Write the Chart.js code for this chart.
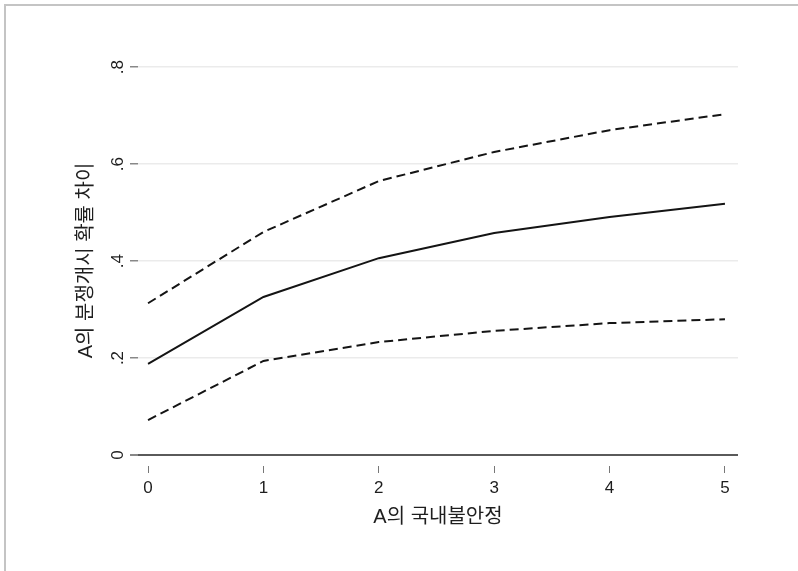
<!DOCTYPE html>
<html>
<head>
<meta charset="utf-8">
<script src="https://cdn.jsdelivr.net/npm/chart.js@4"></script>
<style>
  html, body { margin: 0; padding: 0; background: #fff; }
  #wrap { position: relative; width: 798px; height: 571px; overflow: hidden; }
  #frame { position: absolute; left: 4px; top: 4px; right: -4px; bottom: -4px;
           border-top: 2px solid #c4c4c4; border-left: 2px solid #c4c4c4; pointer-events: none; }
  canvas { position: absolute; left: 0; top: 0; }
</style>
</head>
<body>
<div id="wrap">
  <canvas id="chart" width="798" height="571"></canvas>
  <div id="frame"></div>
</div>
<script>
// values
const xValues = [0, 1, 2, 3, 4, 5];
const estimate = [0.188, 0.326, 0.406, 0.458, 0.491, 0.518];
const upperCI  = [0.313, 0.460, 0.565, 0.625, 0.670, 0.703];
const lowerCI  = [0.072, 0.194, 0.233, 0.256, 0.272, 0.280];

const xTicks = [0, 1, 2, 3, 4, 5];
const yTicks = [0, 0.2, 0.4, 0.6, 0.8];
const yTickLabels = ['0', '.2', '.4', '.6', '.8'];

const xTitle = 'A의 국내불안정';
const yTitle = 'A의 분쟁개시 확률 차이';

const FONT = "'Liberation Sans', Arial, 'Noto Sans CJK KR', sans-serif";
Chart.defaults.font.family = FONT;
Chart.defaults.color = '#1e1e1e';

const pts = arr => xValues.map((x, i) => ({ x, y: arr[i] }));

// y tick labels are rotated in the original (Stata style), so draw them here
const yLabels = {
  id: 'yLabels',
  afterDraw(chart) {
    const { ctx, scales: { y } } = chart;
    ctx.save();
    ctx.font = '17px ' + FONT;
    ctx.fillStyle = '#1e1e1e';
    ctx.textAlign = 'center';
    ctx.textBaseline = 'middle';
    yTicks.forEach((v, i) => {
      const py = y.getPixelForValue(v);
      ctx.save();
      ctx.translate(y.right - 20, py);
      ctx.rotate(-Math.PI / 2);
      ctx.fillText(yTickLabels[i], 0, 0);
      ctx.restore();
    });
    ctx.restore();
  }
};

new Chart(document.getElementById('chart'), {
  type: 'line',
  data: {
    datasets: [
      { label: 'upper', data: pts(upperCI), borderColor: '#141414', borderWidth: 2, borderDash: [9, 5], pointRadius: 0, tension: 0 },
      { label: 'estimate', data: pts(estimate), borderColor: '#141414', borderWidth: 2, pointRadius: 0, tension: 0 },
      { label: 'lower', data: pts(lowerCI), borderColor: '#141414', borderWidth: 2, borderDash: [9, 5], pointRadius: 0, tension: 0 }
    ]
  },
  options: {
    responsive: false,
    animation: false,
    devicePixelRatio: 1,
    layout: { padding: { top: 55, right: 60, left: 0, bottom: 0 } },
    plugins: { legend: { display: false }, tooltip: { enabled: false } },
    scales: {
      x: {
        type: 'linear',
        min: -0.087, max: 5.113,
        afterBuildTicks: s => { s.ticks = xTicks.map(v => ({ value: v })); },
        afterFit: s => { s.height = 105; },
        border: { display: false },
        grid: { drawOnChartArea: false, drawTicks: true, tickLength: 7, tickColor: '#777', lineWidth: 1 },
        ticks: { font: { size: 17 }, padding: 5, maxRotation: 0, autoSkip: false },
        title: { display: true, text: xTitle, font: { size: 20 }, padding: { top: 0, bottom: 42 } }
      },
      y: {
        min: -0.0227, max: 0.825,
        afterBuildTicks: s => { s.ticks = yTicks.map(v => ({ value: v })); },
        afterFit: s => { s.width = 138; },
        border: { display: false },
        grid: {
          color: c => c.tick && c.tick.value === 0 ? '#5a5a5a' : '#ebebeb',
          lineWidth: c => c.tick && c.tick.value === 0 ? 2 : 1.5,
          drawTicks: true, tickLength: 8, tickColor: '#888'
        },
        ticks: { display: false },
        title: { display: true, text: yTitle, font: { size: 20 }, padding: { top: 74 } }
      }
    }
  },
  plugins: [yLabels]
});
</script>
</body>
</html>
